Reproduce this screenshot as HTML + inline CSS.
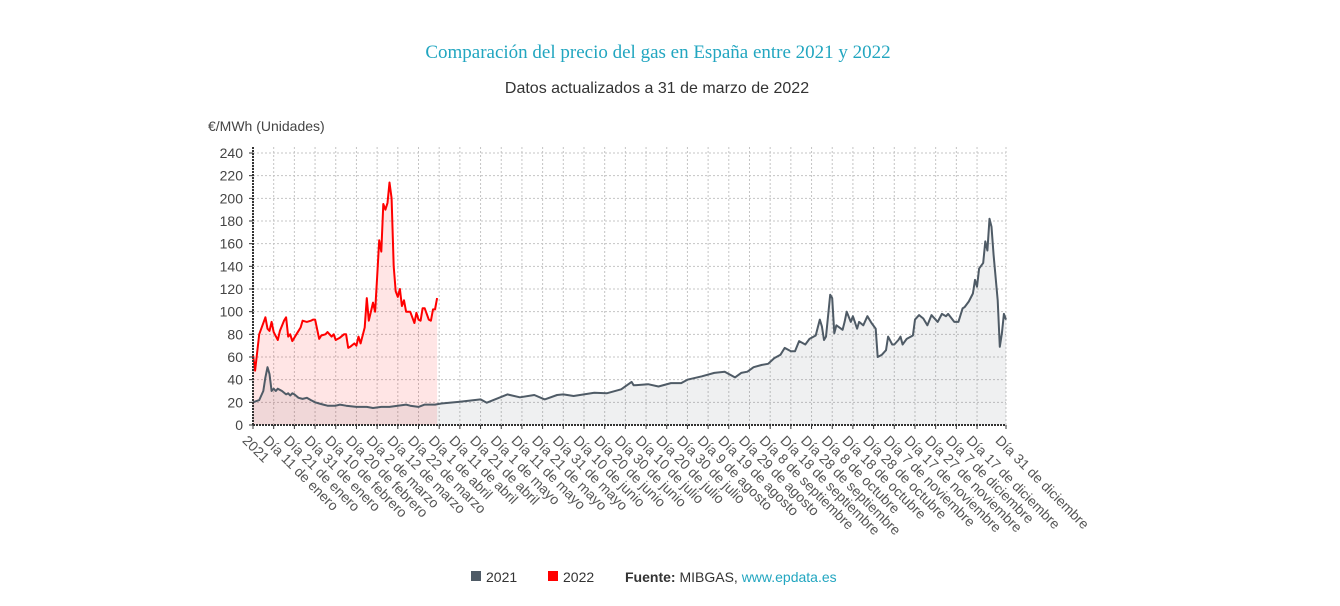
<!DOCTYPE html>
<html><head><meta charset="utf-8"><style>
body{margin:0;background:#fff;width:1340px;height:606px;overflow:hidden;font-family:"Liberation Sans",sans-serif}
svg{display:block}
</style></head><body>
<svg id="chart" width="1340" height="606">
<text x="658" y="58" text-anchor="middle" font-family="Liberation Serif,serif" font-size="19" fill="#22a6c0">Comparación del precio del gas en España entre 2021 y 2022</text>
<text x="657" y="93" text-anchor="middle" font-size="16" fill="#333">Datos actualizados a 31 de marzo de 2022</text>
<text x="208" y="131" font-size="14" fill="#444">€/MWh (Unidades)</text>
<g id="grid"></g><g id="areas"></g><g id="lines"></g><g id="axes"></g>
<g>
<rect x="471" y="571" width="10" height="10" fill="#4f5b66"/>
<text x="486" y="582" font-size="14" fill="#333">2021</text>
<rect x="548" y="571" width="10" height="10" fill="#ff0000"/>
<text x="563" y="582" font-size="14" fill="#333">2022</text>
<text x="625" y="582" font-size="14" fill="#333"><tspan font-weight="bold">Fuente:</tspan> MIBGAS, <tspan fill="#22a6c0">www.epdata.es</tspan></text>
</g>
</svg>
<script>
const tickDays=[0,10,20,30,40,50,60,70,80,90,100,110,120,130,140,150,160,170,180,190,200,210,220,230,240,250,260,270,280,290,300,310,320,330,340,350,364];
const tickLabels=["2021","Día 11 de enero","Día 21 de enero","Día 31 de enero","Día 10 de febrero","Día 20 de febrero","Día 2 de marzo","Día 12 de marzo","Día 22 de marzo","Día 1 de abril","Día 11 de abril","Día 21 de abril","Día 1 de mayo","Día 11 de mayo","Día 21 de mayo","Día 31 de mayo","Día 10 de junio","Día 20 de junio","Día 30 de junio","Día 10 de julio","Día 20 de julio","Día 30 de julio","Día 9 de agosto","Día 19 de agosto","Día 29 de agosto","Día 8 de septiembre","Día 18 de septiembre","Día 28 de septiembre","Día 8 de octubre","Día 18 de octubre","Día 28 de octubre","Día 7 de noviembre","Día 17 de noviembre","Día 27 de noviembre","Día 7 de diciembre","Día 17 de diciembre","Día 31 de diciembre"];
const yTicks=[0,20,40,60,80,100,120,140,160,180,200,220,240];
const days2021=[0,3,5,6,7,8,9,10,11,12,14,16,17,18,19,20,22,24,26,28,30,32,34,36,40,42,45,50,55,58,62,66,70,74,76,80,83,88,91,100,110,113,123,129,136,141,147,150,155,165,171,178,183,184,191,196,202,207,210,217,223,228,233,236,239,242,246,249,252,255,257,260,262,264,267,269,272,274,275,276,277,279,280,281,282,285,286,287,289,290,292,293,295,297,299,301,302,304,306,307,309,310,312,313,314,316,319,320,322,324,326,328,331,333,335,336,339,341,343,344,346,348,349,350,351,353,354,355,356,357,358,360,361,362,363,364];
const values2021=[20,22,30,42,51,45,30,32,30,32,30,27,28,26,28,27,24,23,24,22,20,19,18,17,17,18,17,16,16,15,16,16,17,18,17,16,18,18,19,20.6,22.6,19.7,27,24.4,26.5,22.6,26.5,27,25.6,28.5,28,31.5,38,35,36,34,37,37,40,43,46,47,42,46,47,51,53,54,59,62,68,65,65,74,71,76,79,93,87,75,78,115,112,81,88,84,91,100,91,96,85,91,88,96,90,85,60,62,66,78,71,71,75,78,71,76,79,93,97,94,88,97,91,98,96,98,91,91,103,104,109,116,128,122,138,143,162,154,182,175,150,110,69,81,98,93,77];
const days2022=[0,1,3,6,7,8,9,10,12,13,15,16,17,18,19,21,23,24,26,28,29,30,32,33,35,36,38,39,40,42,44,45,46,47,49,50,51,52,54,55,56,58,59,60,61,62,63,64,65,66,67,68,69,70,71,72,73,74,76,78,79,80,81,82,83,85,86,87,88,89];
const values2022=[62,48,80,95,85,83,91,82,75,83,92,95,78,80,74,80,86,92,91,92,93,93,76,79,80,82,78,80,75,77,80,80,68,69,72,70,78,72,86,112,92,108,100,130,163,153,195,190,196,214,200,140,118,113,120,105,110,100,100,90,99,93,92,103,103,93,92,102,102,112];
const X0=253,X1=1006,Y0=425,Y1=153,DMAX=364,VMAX=240;
const xs=d=>X0+(X1-X0)*d/DMAX, ys=v=>Y0-(Y0-Y1)*v/VMAX;
const NS="http://www.w3.org/2000/svg";
function mk(tag,attrs,parent){const e=document.createElementNS(NS,tag);for(const k in attrs)e.setAttribute(k,attrs[k]);document.getElementById(parent).appendChild(e);return e;}
yTicks.forEach(v=>{
 if(v>0){const g=mk('line',{x1:X0,x2:X1,y1:ys(v),y2:ys(v),stroke:'#c4c4c4','stroke-dasharray':'2,2'},'grid');
 
 }
 const t=mk('text',{x:X0-10,y:ys(v)+5,'text-anchor':'end','font-size':14,fill:'#444'},'axes');t.textContent=v;
 
 
 mk('line',{x1:X0-4,x2:X0,y1:ys(v),y2:ys(v),stroke:'#333'},'axes');
});
tickDays.forEach((d,i)=>{
 const g=mk('line',{x1:xs(d),x2:xs(d),y1:Y1-6,y2:Y0,stroke:'#c4c4c4','stroke-dasharray':'2,2'},'grid');
 
 
 mk('line',{x1:xs(d),x2:xs(d),y1:Y0,y2:Y0+4,stroke:'#333'},'axes');
 const x=xs(d)-4,y=Y0+9;
 const t=mk('text',{x:x,y:y,'font-size':14,fill:'#555',transform:`rotate(45 ${x} ${y})`,'dominant-baseline':'hanging'},'axes');
 t.textContent=tickLabels[i];
 
 
});
const a1=mk('line',{x1:X0,x2:X0,y1:Y1-6,y2:Y0,stroke:'#333','stroke-width':2,'stroke-dasharray':'2,1'},'axes');


const a2=mk('line',{x1:X0,x2:X1,y1:Y0,y2:Y0,stroke:'#333','stroke-width':2,'stroke-dasharray':'2,1'},'axes');


function series(days,vals,col,fill,name){
 const pts=days.map((d,i)=>xs(d).toFixed(1)+','+ys(vals[i]).toFixed(1)).join(' ');
 const ar=mk('polygon',{points:xs(days[0])+','+Y0+' '+pts+' '+xs(days[days.length-1])+','+Y0,fill:fill},'areas');
 
 
 const ln=mk('polyline',{points:pts,fill:'none',stroke:col,'stroke-width':2,'stroke-linejoin':'round'},'lines');
 
 
}
series(days2021,values2021,'#4f5b66','rgba(79,91,102,0.09)','series-2021');
series(days2022,values2022,'#ff0000','rgba(255,0,0,0.1)','series-2022');
</script>
</body></html>
